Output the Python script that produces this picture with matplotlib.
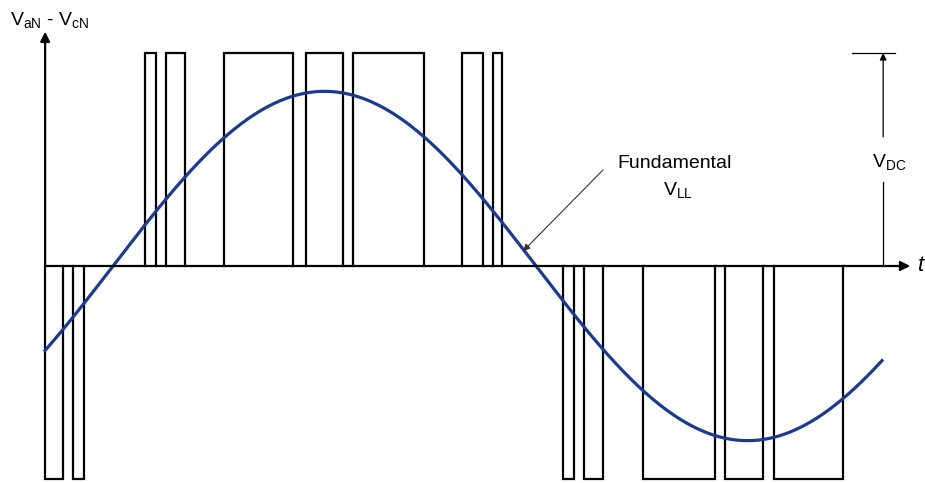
import matplotlib.pyplot as plt
import numpy as np

plt.rcParams['font.family'] = 'Liberation Sans'
plt.rcParams['mathtext.fontset'] = 'custom'
plt.rcParams['mathtext.rm'] = 'Liberation Sans'
plt.rcParams['mathtext.it'] = 'Liberation Sans:italic'

# switching instants in degrees of the fundamental (on, off)
pos_pulses = [(13.6, 18.3), (22.6, 30.6), (47.2, 76.6), (82.1, 97.9),
              (102.1, 132.3), (148.5, 157.4), (161.7, 165.5)]
neg_pulses = [(-28.9, -21.3), (-17.0, -12.3), (191.5, 196.2), (200.4, 208.5),
              (225.5, 256.2), (260.4, 276.6), (281.3, 310.6)]
v_dc = 1.0
m_fund = 0.82          # fundamental amplitude relative to V_DC
t_start, t_end = -28.9, 327.2


def pulse_train(pulses, level):
    ts, vs = [], []
    for on, off in pulses:
        ts += [on, on, off, off]
        vs += [0, level, level, 0]
    return ts, vs


fig = plt.figure(figsize=(9.25, 4.83), dpi=100)
ax = fig.add_axes([0, 0, 1, 1])
ax.set_xlim(-48.1, 345.5)
ax.set_ylim(-1.0188, 1.2488)
ax.axis('off')

# line-to-line PWM voltage
for pulses, level in [(pos_pulses, v_dc), (neg_pulses, -v_dc)]:
    for on, off in pulses:
        ts, vs = pulse_train([(on, off)], level)
        ax.plot(ts, vs, color='black', lw=1.6, solid_joinstyle='miter')

# fundamental component
t = np.linspace(t_start, t_end, 600)
ax.plot(t, m_fund * np.sin(np.radians(t)), color='#1c3a8e', lw=2.3)

# axes with arrows
arrow = dict(arrowstyle='-|>', color='black', lw=1.6, mutation_scale=14, shrinkA=0, shrinkB=0)
ax.annotate('', xy=(339.2, 0), xytext=(t_start, 0), arrowprops=arrow)
ax.annotate('', xy=(t_start, 1.10), xytext=(t_start, 0), arrowprops=arrow)
ax.text(-43.8, 1.131, r'V$_{\mathrm{aN}}$ - V$_{\mathrm{cN}}$', fontsize=14, va='baseline')
ax.text(342.6, 0.0, 't', fontsize=16, style='italic', va='center', ha='left')

# V_DC dimension
ax.plot([314.5, 332.8], [v_dc, v_dc], color='black', lw=0.9)
ax.plot([327.7, 327.7], [0, 0.394], color='black', lw=0.9)
ax.annotate('', xy=(327.7, v_dc), xytext=(327.7, 0.606),
            arrowprops=dict(arrowstyle='-|>', color='black', lw=0.9,
                            mutation_scale=10, shrinkA=0, shrinkB=0))
ax.text(323.0, 0.465, r'V$_{\mathrm{DC}}$', fontsize=14, va='baseline')

# fundamental label
ax.text(214.5, 0.46, 'Fundamental', fontsize=14, va='baseline')
ax.text(234.0, 0.333, r'V$_{\mathrm{LL}}$', fontsize=14, va='baseline')
ax.annotate('', xy=(174.5, 0.07), xytext=(208.5, 0.451),
            arrowprops=dict(arrowstyle='-|>', color='#333333', lw=0.8,
                            mutation_scale=10, shrinkA=0, shrinkB=0))

fig.savefig('out.png', dpi=100, facecolor='white')
